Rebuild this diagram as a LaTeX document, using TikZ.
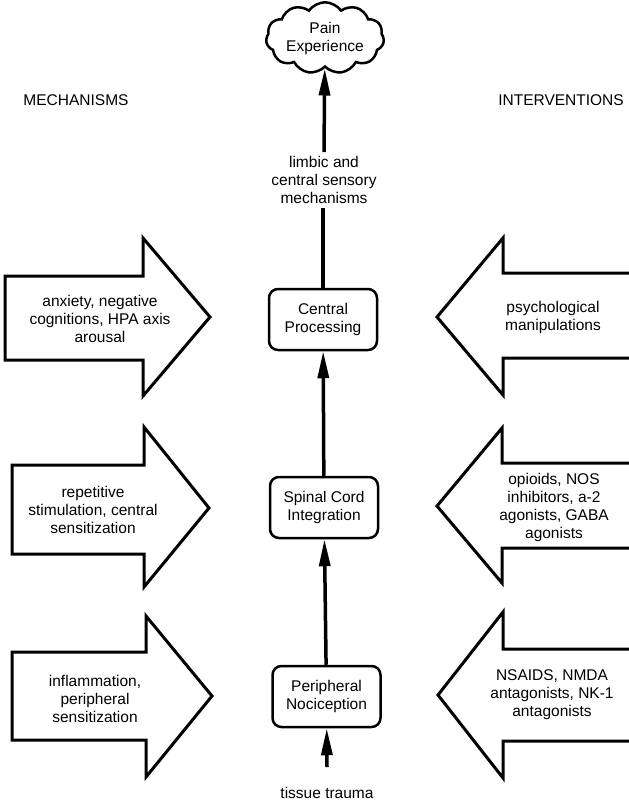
\documentclass[tikz,border=0pt]{standalone}
\usepackage{fontspec}
\setmainfont{Liberation Sans}
\usetikzlibrary{arrows.meta,shapes.symbols}
\begin{document}
\begin{tikzpicture}[x=1pt,y=-1pt,
  txt/.style={font=\fontsize{15.5}{18}\selectfont, align=center, inner sep=0pt},
  blockarrow/.style={draw=black, line width=3pt, line join=miter, fill=white},
  stage/.style={txt, draw, line width=2.5pt, rounded corners=9pt,
    minimum width=108pt, minimum height=61pt},
  flow/.style={line width=3.5pt, -{Triangle[length=27pt,width=11pt]}},
  plain/.style={line width=3.5pt},
]
\useasboundingbox (0,0) rectangle (629,803);
\fill[white] (0,0) rectangle (629,803);
\clip (0,0) rectangle (629,803);

% column headings
\node[txt] (mech) at (76,100) {MECHANISMS};
\node[txt] (interv) at (561,100) {INTERVENTIONS};

% mechanism arrows (pointing right)
\draw[blockarrow] (5,276) -- (143,276) -- (143,238) -- (210,317) -- (143,396) -- (143,360) -- (5,360) -- cycle;
\draw[blockarrow] (12,465) -- (144,465) -- (144,427) -- (209,508) -- (144,587) -- (144,554) -- (12,554) -- cycle;
\draw[blockarrow] (12,652) -- (146,652) -- (146,616) -- (212,696) -- (146,777) -- (146,740) -- (12,740) -- cycle;
\node[txt] (m1) at (100,319) {anxiety, negative\\cognitions, HPA axis\\arousal};
\node[txt] (m2) at (93,510) {repetitive\\stimulation, central\\sensitization};
\node[txt] (m3) at (95,699) {inflammation,\\peripheral\\sensitization};

% intervention arrows (pointing left)
\draw[blockarrow] (640,273) -- (503,273) -- (503,238) -- (437,317) -- (503,395) -- (503,358) -- (640,358) -- cycle;
\draw[blockarrow] (640,463) -- (502,463) -- (502,428) -- (437,506) -- (502,583) -- (502,548) -- (640,548) -- cycle;
\draw[blockarrow] (640,649) -- (503,649) -- (503,612) -- (438,695) -- (503,778) -- (503,741) -- (640,741) -- cycle;
\node[txt] (i1) at (553,317) {psychological\\manipulations};
\node[txt] (i2) at (554,507) {opioids, NOS\\inhibitors, a-2\\agonists, GABA\\agonists};
\node[txt] (i3) at (552,695) {NSAIDS, NMDA\\antagonists, NK-1\\antagonists};

% central pathway
\node[cloud, draw, line width=2.5pt, cloud puffs=11, cloud puff arc=110, aspect=1.9,
      minimum width=118pt, minimum height=64pt, txt] (pain) at (325,38) {Pain\\Experience};
\node[txt, inner ysep=4pt] (limbic) at (324,180) {limbic and\\central sensory\\mechanisms};
\node[stage] (central) at (323,319.5) {Central\\Processing};
\node[stage] (spinal) at (324,507.5) {Spinal Cord\\Integration};
\node[stage] (periph) at (326.5,696.5) {Peripheral\\Nociception};
\node[txt] (trauma) at (327,793) {tissue trauma};
\coordinate (traumaTop) at (327,767);

\draw[flow] (traumaTop) -- (periph);
\draw[flow] (periph) -- (spinal);
\draw[flow] (spinal) -- (central);
\draw[plain] (central.north) -- (limbic.south -| central.north);
\draw[flow] (limbic.north) -- (pain);
\end{tikzpicture}
\end{document}
